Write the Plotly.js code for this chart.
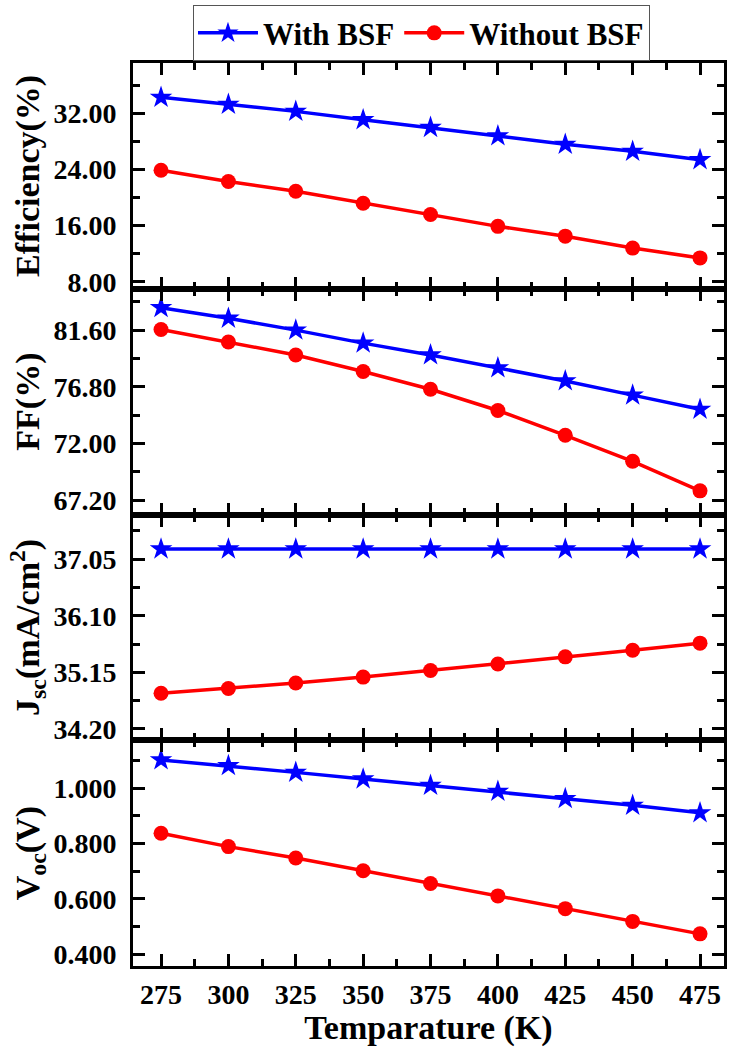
<!DOCTYPE html>
<html>
<head>
<meta charset="utf-8">
<script src="https://cdn.plot.ly/plotly-3.0.1.min.js"></script>
<style>
  html, body { margin: 0; padding: 0; background: #fff; }
  #plot { width: 729px; height: 1047px; }
</style>
</head>
<body>
<div id="plot"></div>
<script>
// Data
const temps = [275, 300, 325, 350, 375, 400, 425, 450, 475];

const effWith    = [34.3, 33.3, 32.3, 31.1, 30.0, 28.8, 27.6, 26.6, 25.4];
const effWithout = [23.9, 22.3, 20.9, 19.2, 17.6, 15.9, 14.5, 12.8, 11.4];

const ffWith    = [83.5, 82.6, 81.6, 80.5, 79.5, 78.4, 77.3, 76.1, 74.9];
const ffWithout = [81.65, 80.6, 79.5, 78.1, 76.6, 74.8, 72.7, 70.5, 68.0];

const jscWith    = [37.22, 37.22, 37.22, 37.22, 37.22, 37.22, 37.22, 37.22, 37.22];
const jscWithout = [34.80, 34.88, 34.97, 35.07, 35.18, 35.29, 35.41, 35.52, 35.64];

const vocWith    = [1.102, 1.081, 1.057, 1.033, 1.010, 0.988, 0.962, 0.938, 0.911];
const vocWithout = [0.837, 0.789, 0.748, 0.702, 0.656, 0.611, 0.565, 0.519, 0.474];

const seriesNames = ['With BSF', 'Without BSF'];

const FONT = 'Liberation Serif, Times New Roman, serif';
const BLUE = '#0000ff';
const RED = '#ff0000';

function withTrace(y, n) {
    return {
        x: temps, y: y,
        xaxis: 'x' + (n > 1 ? n : ''), yaxis: 'y' + (n > 1 ? n : ''),
        mode: 'lines+markers',
        name: seriesNames[0],
        legendgroup: 'with',
        showlegend: n === 1,
        line: {color: BLUE, width: 3.5},
        marker: {symbol: 'star', size: 17, color: BLUE}
    };
}

function withoutTrace(y, n) {
    return {
        x: temps, y: y,
        xaxis: 'x' + (n > 1 ? n : ''), yaxis: 'y' + (n > 1 ? n : ''),
        mode: 'lines+markers',
        name: seriesNames[1],
        legendgroup: 'without',
        showlegend: n === 1,
        line: {color: RED, width: 3.5},
        marker: {symbol: 'circle', size: 15, color: RED}
    };
}

const data = [
    withTrace(effWith, 1), withoutTrace(effWithout, 1),
    withTrace(ffWith, 2), withoutTrace(ffWithout, 2),
    withTrace(jscWith, 3), withoutTrace(jscWithout, 3),
    withTrace(vocWith, 4), withoutTrace(vocWithout, 4)
];

const tickFont = {family: FONT, size: 28, color: '#000', weight: 'bold'};
const titleFont = {family: FONT, size: 34, color: '#000', weight: 'bold'};

function xAxis(n, last) {
    const ax = {
        anchor: 'y' + (n > 1 ? n : ''),
        range: [264.6, 483.9],
        tickmode: 'linear', tick0: 275, dtick: 25,
        ticks: 'inside', ticklen: 12, tickwidth: 3, tickcolor: '#000',
        minor: {ticks: 'inside', ticklen: 7, tickwidth: 3, tickcolor: '#000', dtick: 12.5, tick0: 275},
        showline: true, linewidth: 3, linecolor: '#000', mirror: 'ticks',
        showgrid: false, zeroline: false,
        showticklabels: last,
        tickfont: tickFont,
        ticklabelstandoff: 1,
        automargin: false
    };
    if (last) ax.title = {text: 'Temparature (K)', font: titleFont, standoff: 10};
    return ax;
}

function yAxis(domain, range, dtick, fmt, title) {
    return {
        domain: domain,
        range: range,
        tickmode: 'linear', tick0: 0, dtick: dtick,
        tickformat: fmt,
        ticks: 'inside', ticklen: 12, tickwidth: 3, tickcolor: '#000',
        minor: {ticks: 'inside', ticklen: 7, tickwidth: 3, tickcolor: '#000', dtick: dtick / 2},
        showline: true, linewidth: 3, linecolor: '#000', mirror: 'ticks',
        showgrid: false, zeroline: false,
        tickfont: tickFont,
        ticklabelstandoff: 8,
        title: {text: title, font: titleFont, standoff: 4},
        automargin: false
    };
}

const layout = {
    width: 729, height: 1047,
    paper_bgcolor: '#fff', plot_bgcolor: '#fff',
    margin: {l: 133, r: 5, t: 58, b: 81},
    font: {family: FONT, color: '#000'},
    showlegend: true,
    legend: {
        orientation: 'h',
        x: 0.1015, xanchor: 'left',
        y: 1.064, yanchor: 'top',
        bgcolor: '#fff', bordercolor: '#555', borderwidth: 1,
        font: {family: FONT, size: 31, color: '#000', weight: 'bold'},
        itemwidth: 60,
        tracegroupgap: 0
    },
    xaxis: xAxis(1, false),
    xaxis2: xAxis(2, false),
    xaxis3: xAxis(3, false),
    xaxis4: xAxis(4, true),
    yaxis: yAxis([0.75, 1.0], [7.0, 39.2], 8, '.2f', 'Efficiency(%)'),
    yaxis2: yAxis([0.5, 0.75], [66.0, 85.1], 4.8, '.2f', 'FF(%)'),
    yaxis3: yAxis([0.25, 0.5], [34.01, 37.80], 0.95, '.2f', 'J<sub>sc</sub>(mA/cm<sup>2</sup>)'),
    yaxis4: yAxis([0.0, 0.25], [0.358, 1.173], 0.2, '.3f', 'V<sub>oc</sub>(V)')
};

Plotly.newPlot('plot', data, layout, {displayModeBar: false, staticPlot: true});
</script>
</body>
</html>
